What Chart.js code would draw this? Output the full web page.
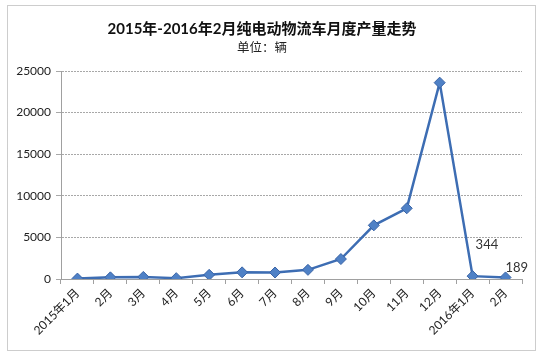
<!DOCTYPE html>
<html><head><meta charset="utf-8">
<script src="https://cdn.jsdelivr.net/npm/chart.js@4"></script>
<style>html,body{margin:0;padding:0;background:#fff}#w{width:541px;height:356px;position:relative}</style>
</head><body><div id="w"><canvas id="c" width="541" height="356"></canvas></div>
<script>
const categories = ['2015年1月','2月','3月','4月','5月','6月','7月','8月','9月','10月','11月','12月','2016年1月','2月'];
const production = [50, 200, 250, 100, 500, 800, 780, 1100, 2400, 6450, 8500, 23600, 344, 189];
const yTicks = [0, 5000, 10000, 15000, 20000, 25000];
const titleText = '2015年-2016年2月纯电动物流车月度产量走势';
const subtitleText = '单位：辆';
const labeledIdx = [12, 13];

const FONT = "Lato, 'Noto Sans CJK SC', sans-serif";

const deco = {
  id: 'deco',
  beforeDraw(chart) {
    const ctx = chart.ctx;
    ctx.save();
    ctx.fillStyle = '#fff';
    ctx.fillRect(0, 0, chart.width, chart.height);
    ctx.strokeStyle = '#9a9a9a';
    ctx.lineWidth = 1;
    ctx.setLineDash([1, 1]);
    ctx.strokeRect(7.5, 5.5, 528, 345);
    ctx.restore();
  },
  afterDraw(chart) {
    const ctx = chart.ctx;
    ctx.save();
    ctx.fillStyle = '#111';
    ctx.textAlign = 'center';
    ctx.textBaseline = 'middle';
    ctx.font = "bold 15px " + FONT;
    ctx.fillText(titleText, 262, 29);
    ctx.font = "12.5px " + FONT;
    ctx.fillStyle = '#222';
    ctx.fillText(subtitleText, 262, 48);
    const meta = chart.getDatasetMeta(0);
    ctx.font = "13px " + FONT;
    ctx.fillStyle = '#333';
    ctx.textAlign = 'left';
    const offs = {12: [3, -31], 13: [0, -10]};
    labeledIdx.forEach(i => {
      const p = meta.data[i];
      ctx.fillText(String(production[i]), p.x + offs[i][0], p.y + offs[i][1]);
    });
    ctx.restore();
  }
};

new Chart(document.getElementById('c'), {
  type: 'line',
  data: {
    labels: categories,
    datasets: [{
      data: production,
      borderColor: '#3d6db3',
      borderWidth: 2.5,
      pointStyle: 'rectRot',
      pointRadius: 5.5,
      pointBackgroundColor: '#4f81c6',
      pointBorderColor: '#3a64a6',
      pointBorderWidth: 1,
      tension: 0
    }]
  },
  options: {
    responsive: false,
    animation: false,
    devicePixelRatio: 1,
    layout: { padding: { top: 71, right: 19, left: 0, bottom: 0 } },
    plugins: { legend: { display: false }, tooltip: { enabled: false } },
    scales: {
      x: {
        offset: true,
        afterFit(s) { s.height = 77; },
        grid: { offset: true, drawOnChartArea: false, drawTicks: true, tickLength: 5, color: '#a0a0a0' },
        border: { display: true, color: '#a0a0a0' },
        ticks: { minRotation: 45, maxRotation: 45, autoSkip: false, padding: 2, color: '#222', font: { family: FONT, size: 12 } }
      },
      y: {
        min: 0, max: 25000,
        afterFit(s) { s.width = 61; },
        afterBuildTicks(s) { s.ticks = yTicks.map(v => ({ value: v })); },
        grid: { color: '#a8a8a8', tickLength: 5, tickBorderDash: [], drawTicks: true },
        border: { display: true, color: '#a0a0a0', dash: [2, 1] },
        ticks: { padding: 5, color: '#222', font: { family: FONT, size: 12 }, callback: v => String(v) }
      }
    }
  },
  plugins: [deco]
});
</script></body></html>
